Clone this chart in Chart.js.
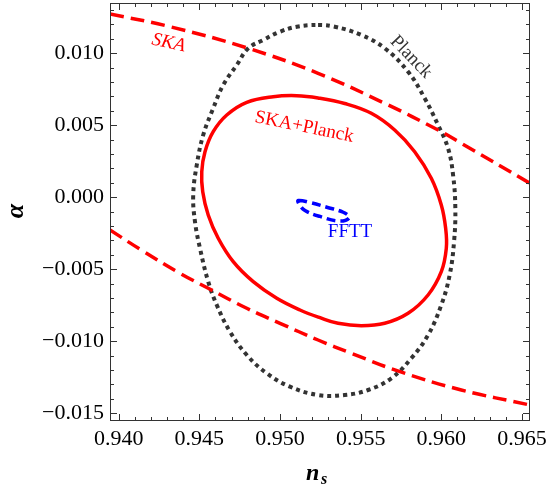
<!DOCTYPE html>
<html><head><meta charset="utf-8">
<style>html,body{margin:0;padding:0;background:#fff;}#wrap{width:548px;height:486px;}</style>
<script src="https://cdn.jsdelivr.net/npm/chart.js@4/dist/chart.umd.min.js"></script>
</head><body><div id="wrap"><canvas id="c" width="548" height="486"></canvas></div>
<script>
// ---- tick labels ----
const xTicks = [0.940, 0.945, 0.950, 0.955, 0.960, 0.965];
const yTicks = [-0.015, -0.010, -0.005, 0.000, 0.005, 0.010];

// ---- Planck (dotted) closed contour ----
const planckX = [0.95236,0.95339,0.95504,0.95649,0.95794,0.95897,0.95980,0.96042,0.96073,0.96087,0.96079,0.96052,0.96000,0.95918,0.95814,0.95690,0.95546,0.95401,0.95236,0.95062,0.94918,0.94794,0.94690,0.94608,0.94555,0.94504,0.94473,0.94462,0.94484,0.94524,0.94586,0.94648,0.94732,0.94803,0.94896,0.95000,0.95104];
const planckY = [0.011965,0.011847,0.011271,0.010347,0.008722,0.006875,0.005021,0.003403,0.001549,-0.000764,-0.003083,-0.005396,-0.007479,-0.009563,-0.011181,-0.012569,-0.013382,-0.013729,-0.013729,-0.013153,-0.012222,-0.010951,-0.009333,-0.007479,-0.005861,-0.003542,-0.001694,0.000160,0.002243,0.004326,0.006181,0.007799,0.009188,0.010347,0.010924,0.011500,0.011847];

// ---- SKA+Planck (solid) closed contour ----
const comboX = [0.95104,0.95236,0.95401,0.95566,0.95711,0.95835,0.95938,0.96000,0.96027,0.96031,0.96000,0.95918,0.95794,0.95649,0.95504,0.95360,0.95248,0.95124,0.94980,0.94834,0.94710,0.94617,0.94555,0.94521,0.94515,0.94535,0.94586,0.94670,0.94794,0.94958];
const comboY = [0.007056,0.006900,0.006514,0.005833,0.004674,0.003167,0.001319,-0.000535,-0.002153,-0.003542,-0.005167,-0.006785,-0.008056,-0.008750,-0.008917,-0.008750,-0.008361,-0.007826,-0.007014,-0.005861,-0.004472,-0.002847,-0.001229,0.000389,0.001778,0.003167,0.004556,0.005715,0.006597,0.006986];

// ---- SKA (dashed) upper and lower branches ----
const skaUpX = [0.93946,0.94318,0.94803,0.95236,0.95649,0.95980,0.96124,0.96550];
const skaUpY = [0.01273,0.01185,0.010347,0.008611,0.006528,0.004674,0.00375,0.000972];
const skaLoX = [0.93946,0.94140,0.94380,0.94555,0.94794,0.95000,0.95236,0.95442,0.95744,0.96124,0.96550];
const skaLoY = [-0.00227,-0.00366,-0.005278,-0.006319,-0.007708,-0.008750,-0.009910,-0.010833,-0.012110,-0.013382,-0.014424];

// ---- FFTT (blue dashed) closed contour ----
const ffttX = [0.95113,0.95186,0.95290,0.95392,0.95430,0.95372,0.95248,0.95155,0.95118];
const ffttY = [-0.00022,-0.00036,-0.00069,-0.00104,-0.00140,-0.00165,-0.00133,-0.00092,-0.00047];

const pts = (xs, ys) => xs.map((x, i) => ({x, y: ys[i]}));
const SERIF = 'Liberation Serif';
Chart.defaults.font.family = SERIF;
const fmt = v => (v < 0 ? '\u2212' : '') + Math.abs(v).toFixed(3);

// close the contour datasets smoothly (library's own loop handling)
const loopPlugin = {
  id: 'loop',
  beforeDatasetsDraw(chart) {
    chart.data.datasets.forEach((ds, i) => {
      if (!ds.closed) return;
      const line = chart.getDatasetMeta(i).dataset;
      line._loop = true;
      line._fullLoop = true;
      line._pointsUpdated = false;
      delete line._segments;
      delete line._path;
      line.updateControlPoints(chart.chartArea, 'x');
    });
  }
};

const framePlugin = {
  id: 'frame',
  afterDraw(chart) {
    const ctx = chart.ctx, a = chart.chartArea, sx = chart.scales.x, sy = chart.scales.y;
    ctx.save();
    ctx.strokeStyle = '#333';
    ctx.lineWidth = 1;
    ctx.strokeRect(a.left + 0.5, a.top + 0.5, a.right - a.left - 1, a.bottom - a.top - 1);
    ctx.beginPath();
    for (let k = 940; k <= 965; k++) {
      const v = k / 1000, px = Math.round(sx.getPixelForValue(v)) + 0.5;
      const len = (k % 5 === 0) ? 7 : 4;
      ctx.moveTo(px, a.bottom); ctx.lineTo(px, a.bottom - len);
      ctx.moveTo(px, a.top); ctx.lineTo(px, a.top + len);
    }
    for (let k = -15; k <= 13; k++) {
      const v = k / 1000, py = Math.round(sy.getPixelForValue(v)) + 0.5;
      const len = (k % 5 === 0) ? 7 : 4;
      ctx.moveTo(a.left, py); ctx.lineTo(a.left + len, py);
      ctx.moveTo(a.right, py); ctx.lineTo(a.right - len, py);
    }
    ctx.stroke();

    // annotations
    const lab = (txt, x, y, ang, color, style) => {
      ctx.save();
      ctx.translate(sx.getPixelForValue(x), sy.getPixelForValue(y));
      ctx.rotate(ang * Math.PI / 180);
      ctx.font = style + ' 19px "' + SERIF + '"';
      ctx.fillStyle = color;
      ctx.textAlign = 'center';
      ctx.textBaseline = 'middle';
      ctx.fillText(txt, 0, 0);
      ctx.restore();
    };
    lab('SKA', 0.94309, 0.01072, 12, '#ff0000', 'italic');
    lab('SKA+Planck', 0.95150, 0.00488, 11.5, '#ff0000', 'normal');
    lab('Planck', 0.95812, 0.00974, 46, '#333333', 'normal');
    lab('FFTT', 0.95434, -0.00241, 0, '#0000ff', 'normal');

    // axis titles
    ctx.fillStyle = '#000';
    ctx.textBaseline = 'alphabetic';
    ctx.textAlign = 'left';
    ctx.font = 'italic bold 24px "' + SERIF + '"';
    ctx.fillText('n', 306, 480);
    ctx.font = 'italic bold 16px "' + SERIF + '"';
    ctx.fillText('s', 321, 484);
    ctx.save();
    ctx.translate(23, 211);
    ctx.rotate(-Math.PI / 2);
    ctx.textAlign = 'center';
    ctx.font = 'italic bold 26px "' + SERIF + '"';
    ctx.fillText('\u03b1', 0, 0);
    ctx.restore();
    ctx.restore();
  }
};

const common = {showLine: true, pointRadius: 0, pointHoverRadius: 0, fill: false, tension: 0.4};
const zeroPad = s => { s.paddingTop = 0; s.paddingBottom = 0; s.paddingLeft = 0; s.paddingRight = 0; };
new Chart(document.getElementById('c'), {
  type: 'scatter',
  data: {
    datasets: [
      Object.assign({label: 'FFTT', data: pts(ffttX, ffttY), closed: true, borderColor: '#0000ff', borderWidth: 3.5, borderDash: [9, 5], order: 0}, common),
      Object.assign({label: 'SKA+Planck', data: pts(comboX, comboY), closed: true, borderColor: '#ff0000', borderWidth: 3.5, order: 1}, common),
      Object.assign({label: 'SKA upper', data: pts(skaUpX, skaUpY), borderColor: '#ff0000', borderWidth: 3.5, borderDash: [14, 7], order: 2}, common),
      Object.assign({label: 'SKA lower', data: pts(skaLoX, skaLoY), borderColor: '#ff0000', borderWidth: 3.5, borderDash: [14, 7], order: 3}, common),
      Object.assign({label: 'Planck', data: pts(planckX, planckY), closed: true, borderColor: '#333333', borderWidth: 4, borderDash: [4, 4], order: 4}, common)
    ]
  },
  options: {
    responsive: false,
    animation: false,
    devicePixelRatio: 1,
    layout: {padding: {top: 3, right: 18, left: 0, bottom: 0}},
    plugins: {legend: {display: false}, tooltip: {enabled: false}},
    scales: {
      x: {
        type: 'linear', min: 0.939461, max: 0.965499,
        afterBuildTicks: s => { s.ticks = xTicks.map(v => ({value: v})); },
        afterFit: s => { s.height = 65; zeroPad(s); },
        ticks: {callback: v => fmt(v), font: {family: SERIF, size: 22}, color: '#000', padding: 5, maxRotation: 0, autoSkip: false},
        grid: {display: false, drawTicks: false},
        border: {display: false}
      },
      y: {
        type: 'linear', min: -0.015535, max: 0.013493,
        afterBuildTicks: s => { s.ticks = yTicks.map(v => ({value: v})); },
        afterFit: s => { s.width = 110; zeroPad(s); },
        ticks: {callback: v => fmt(v), font: {family: SERIF, size: 22}, color: '#000', padding: 6, autoSkip: false},
        grid: {display: false, drawTicks: false},
        border: {display: false}
      }
    }
  },
  plugins: [loopPlugin, framePlugin]
});
</script></body></html>
